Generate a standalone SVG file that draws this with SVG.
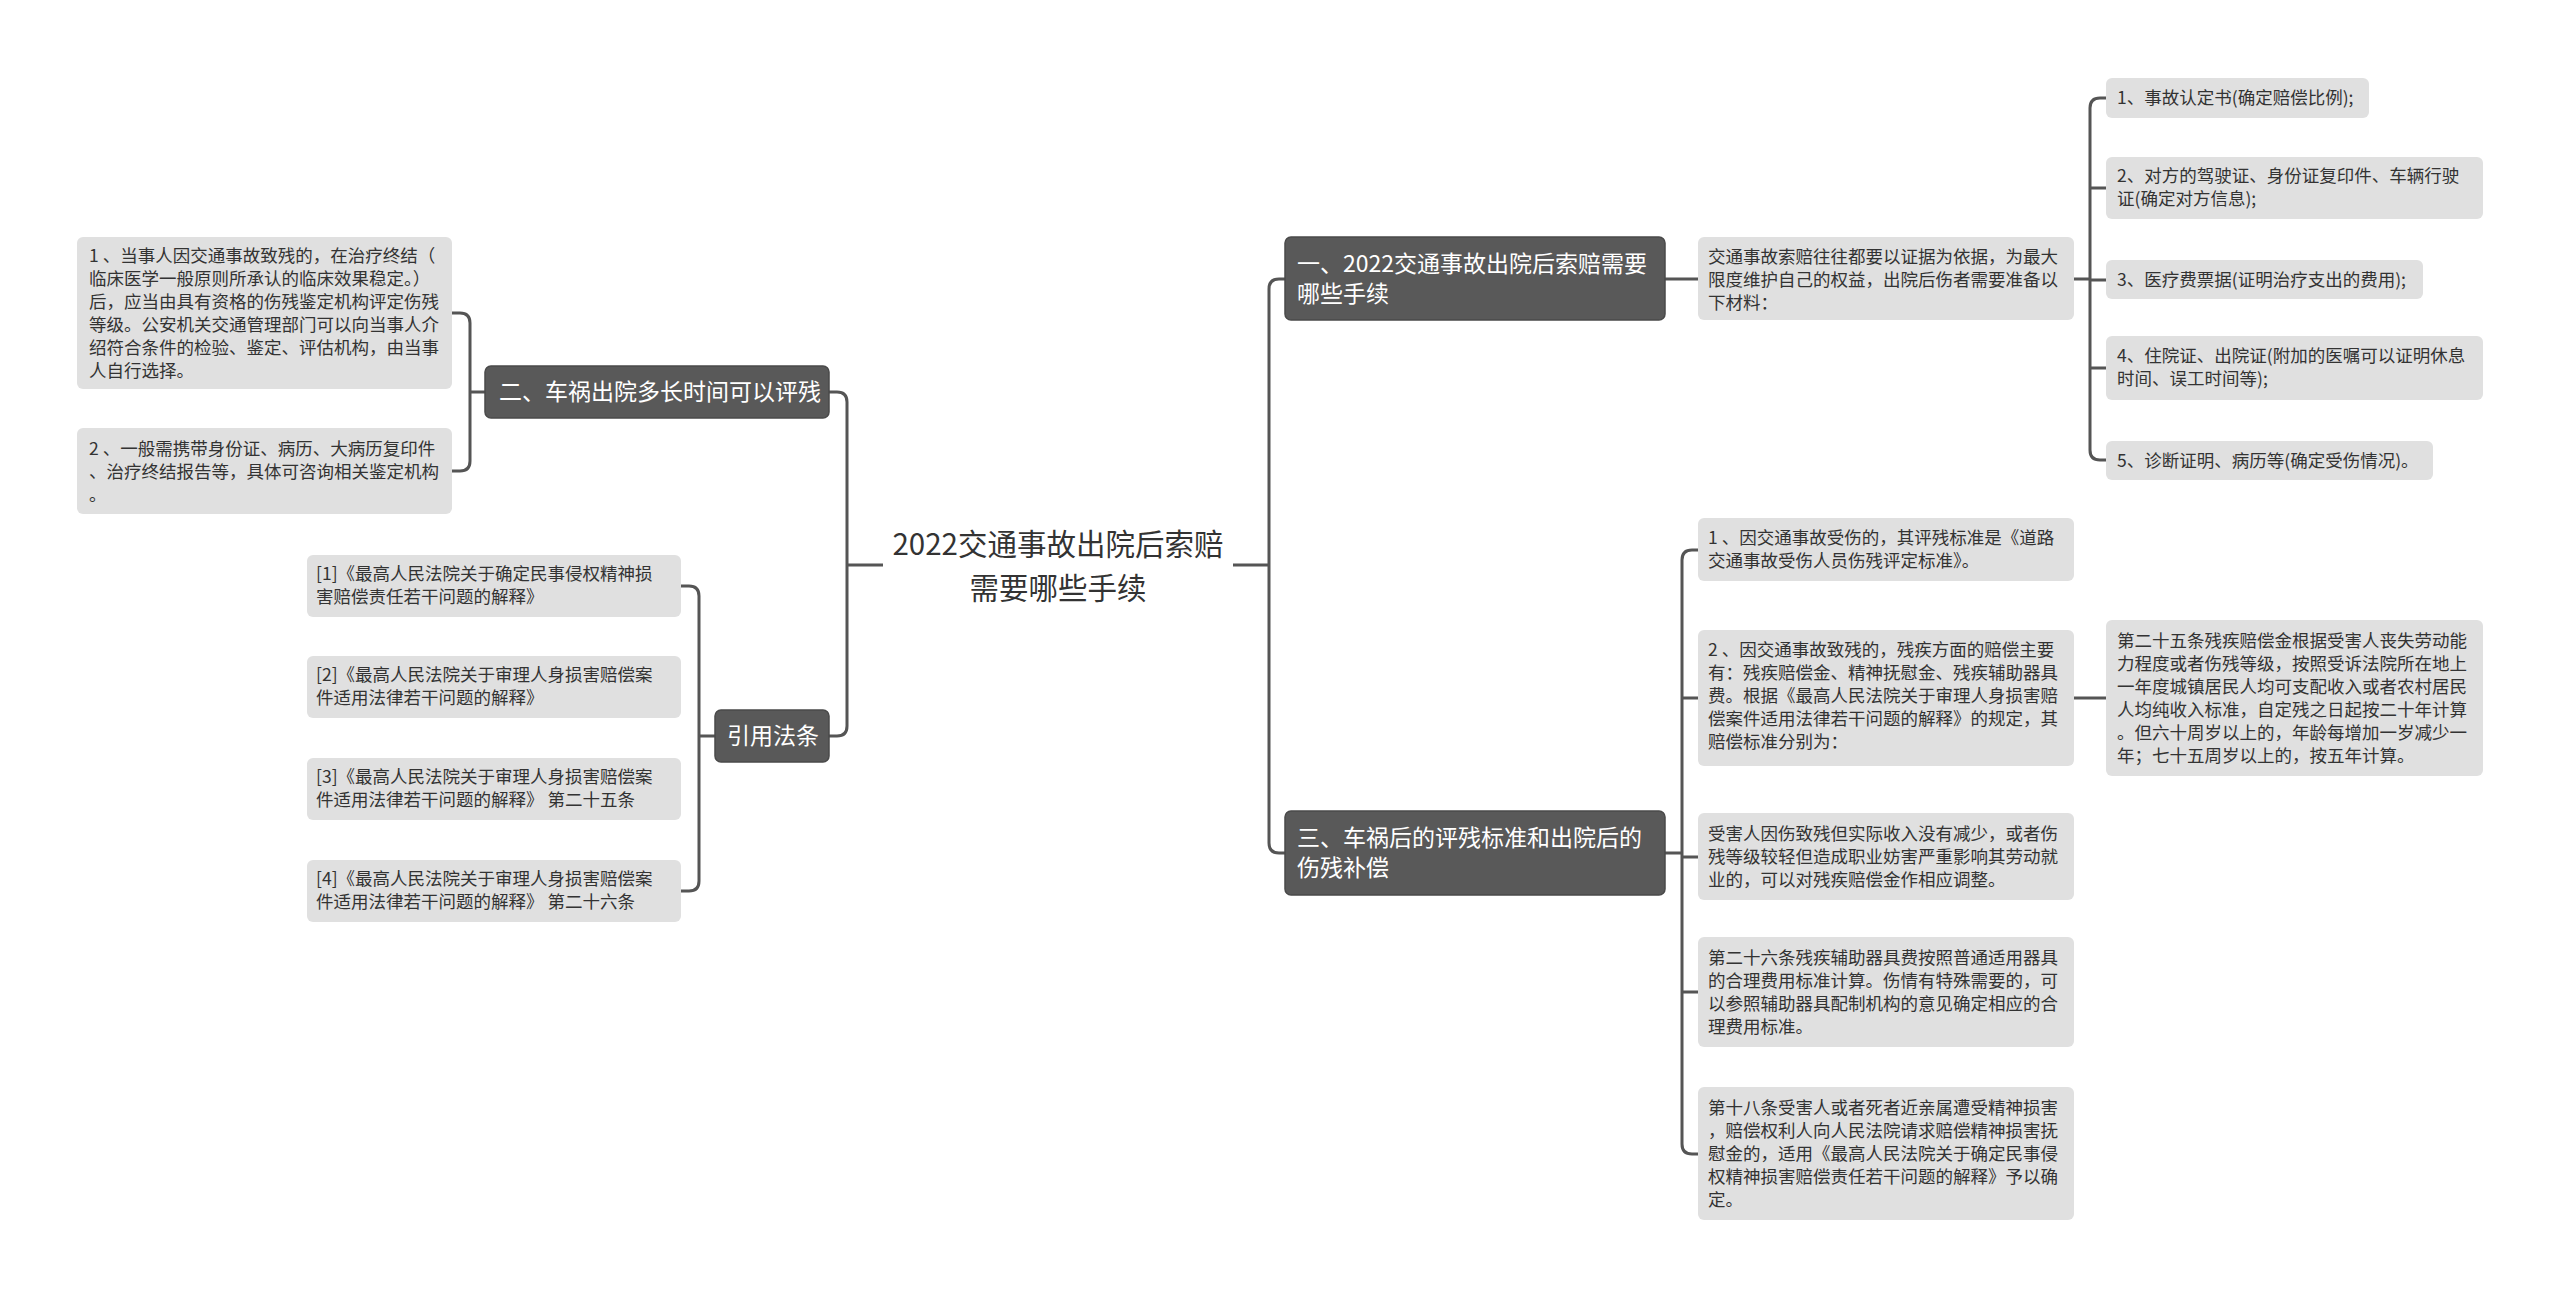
<svg xmlns="http://www.w3.org/2000/svg" width="2560" height="1298" viewBox="0 0 2560 1298">
<style>
.d{fill:#595959;stroke:#4a4a4a;stroke-width:1.5}
.l{fill:#e0e0e0}
.t{font-family:"Noto Sans CJK SC","Liberation Sans",sans-serif;font-size:17.5px;fill:#333}
.w{font-family:"Noto Sans CJK SC","Liberation Sans",sans-serif;font-size:23px;fill:#fff}
.c{font-family:"Noto Sans CJK SC","Liberation Sans",sans-serif;font-size:29.5px;fill:#333}
.k{fill:none;stroke:#555;stroke-width:3}
</style>
<rect width="2560" height="1298" fill="#fff"/>
<g id="connectors" class="k">
<path d="M883,565 H847 M829,392 H837 Q847,392 847,402 V726 Q847,736 837,736 H829"/>
<path d="M485,392 H470 M452,313 H460 Q470,313 470,323 V461 Q470,471 460,471 H452"/>
<path d="M715,736 H699 M681,586 H689 Q699,586 699,596 V881 Q699,891 689,891 H681"/>
<path d="M1233,565 H1269 M1285,279 H1279 Q1269,279 1269,289 V843 Q1269,853 1279,853 H1285"/>
<path d="M1665,279 H1698"/>
<path d="M2074,279 H2090 M2106,98 H2100 Q2090,98 2090,108 V450 Q2090,460 2100,460 H2106 M2090,188 H2106 M2090,280 H2106 M2090,368 H2106"/>
<path d="M1665,853 H1682 M1698,550 H1692 Q1682,550 1682,560 V1144 Q1682,1154 1692,1154 H1698 M1682,698 H1698 M1682,857 H1698 M1682,992 H1698"/>
<path d="M2074,698 H2106"/>
</g>
<g id="center"><text class="c" x="1058" y="555" text-anchor="middle">2022交通事故出院后索赔</text><text class="c" x="1058" y="599" text-anchor="middle">需要哪些手续</text></g>
<g id="n2"><rect class="d" x="485" y="366" width="344" height="52" rx="6"/><text class="w" x="499" y="400">二、车祸出院多长时间可以评残</text></g>
<g id="n2a"><rect class="l" x="77" y="237" width="375" height="152" rx="6"/><text class="t" x="89" y="262"><tspan x="89"> 1 、当事人因交通事故致残的，在治疗终结（</tspan><tspan x="89" dy="23">临床医学一般原则所承认的临床效果稳定。）</tspan><tspan x="89" dy="23">后，应当由具有资格的伤残鉴定机构评定伤残</tspan><tspan x="89" dy="23">等级。公安机关交通管理部门可以向当事人介</tspan><tspan x="89" dy="23">绍符合条件的检验、鉴定、评估机构，由当事</tspan><tspan x="89" dy="23">人自行选择。</tspan></text></g>
<g id="n2b"><rect class="l" x="77" y="428" width="375" height="86" rx="6"/><text class="t" x="89" y="455"><tspan x="89"> 2 、一般需携带身份证、病历、大病历复印件</tspan><tspan x="89" dy="23">、治疗终结报告等，具体可咨询相关鉴定机构</tspan><tspan x="89" dy="23">。</tspan></text></g>
<g id="n4"><rect class="d" x="715" y="710" width="114" height="52" rx="6"/><text class="w" x="727" y="744">引用法条</text></g>
<g id="r1"><rect class="l" x="307" y="555" width="374" height="62" rx="6"/><text class="t" x="316" y="580"><tspan x="316">[1]《最高人民法院关于确定民事侵权精神损</tspan><tspan x="316" dy="23">害赔偿责任若干问题的解释》</tspan></text></g>
<g id="r2"><rect class="l" x="307" y="656" width="374" height="62" rx="6"/><text class="t" x="316" y="681"><tspan x="316">[2]《最高人民法院关于审理人身损害赔偿案</tspan><tspan x="316" dy="23">件适用法律若干问题的解释》</tspan></text></g>
<g id="r3"><rect class="l" x="307" y="758" width="374" height="62" rx="6"/><text class="t" x="316" y="783"><tspan x="316">[3]《最高人民法院关于审理人身损害赔偿案</tspan><tspan x="316" dy="23">件适用法律若干问题的解释》 第二十五条</tspan></text></g>
<g id="r4"><rect class="l" x="307" y="860" width="374" height="62" rx="6"/><text class="t" x="316" y="885"><tspan x="316">[4]《最高人民法院关于审理人身损害赔偿案</tspan><tspan x="316" dy="23">件适用法律若干问题的解释》 第二十六条</tspan></text></g>
<g id="n1"><rect class="d" x="1285" y="237" width="380" height="83" rx="6"/><text class="w" x="1297" y="272"><tspan x="1297">一、2022交通事故出院后索赔需要</tspan><tspan x="1297" dy="30">哪些手续</tspan></text></g>
<g id="n1a"><rect class="l" x="1698" y="237" width="376" height="83" rx="6"/><text class="t" x="1708" y="263"><tspan x="1708">交通事故索赔往往都要以证据为依据，为最大</tspan><tspan x="1708" dy="23">限度维护自己的权益，出院后伤者需要准备以</tspan><tspan x="1708" dy="23">下材料：</tspan></text></g>
<g id="i1"><rect class="l" x="2106" y="78" width="263" height="40" rx="6"/><text class="t" x="2117" y="104">1、事故认定书(确定赔偿比例);</text></g>
<g id="i2"><rect class="l" x="2106" y="157" width="377" height="62" rx="6"/><text class="t" x="2117" y="182"><tspan x="2117">2、对方的驾驶证、身份证复印件、车辆行驶</tspan><tspan x="2117" dy="23">证(确定对方信息);</tspan></text></g>
<g id="i3"><rect class="l" x="2106" y="260" width="317" height="39" rx="6"/><text class="t" x="2117" y="286">3、医疗费票据(证明治疗支出的费用);</text></g>
<g id="i4"><rect class="l" x="2106" y="336" width="377" height="64" rx="6"/><text class="t" x="2117" y="362"><tspan x="2117">4、住院证、出院证(附加的医嘱可以证明休息</tspan><tspan x="2117" dy="23">时间、误工时间等);</tspan></text></g>
<g id="i5"><rect class="l" x="2106" y="441" width="327" height="39" rx="6"/><text class="t" x="2117" y="467">5、诊断证明、病历等(确定受伤情况)。</text></g>
<g id="n3"><rect class="d" x="1285" y="811" width="380" height="84" rx="6"/><text class="w" x="1297" y="846"><tspan x="1297">三、车祸后的评残标准和出院后的</tspan><tspan x="1297" dy="30">伤残补偿</tspan></text></g>
<g id="s1"><rect class="l" x="1698" y="518" width="376" height="63" rx="6"/><text class="t" x="1708" y="544"><tspan x="1708"> 1 、因交通事故受伤的，其评残标准是《道路</tspan><tspan x="1708" dy="23">交通事故受伤人员伤残评定标准》。</tspan></text></g>
<g id="s2"><rect class="l" x="1698" y="630" width="376" height="136" rx="6"/><text class="t" x="1708" y="656"><tspan x="1708"> 2 、因交通事故致残的，残疾方面的赔偿主要</tspan><tspan x="1708" dy="23">有：残疾赔偿金、精神抚慰金、残疾辅助器具</tspan><tspan x="1708" dy="23">费。根据《最高人民法院关于审理人身损害赔</tspan><tspan x="1708" dy="23">偿案件适用法律若干问题的解释》的规定，其</tspan><tspan x="1708" dy="23">赔偿标准分别为：</tspan></text></g>
<g id="s2a"><rect class="l" x="2106" y="620" width="377" height="156" rx="6"/><text class="t" x="2117" y="647"><tspan x="2117">第二十五条残疾赔偿金根据受害人丧失劳动能</tspan><tspan x="2117" dy="23">力程度或者伤残等级，按照受诉法院所在地上</tspan><tspan x="2117" dy="23">一年度城镇居民人均可支配收入或者农村居民</tspan><tspan x="2117" dy="23">人均纯收入标准，自定残之日起按二十年计算</tspan><tspan x="2117" dy="23">。但六十周岁以上的，年龄每增加一岁减少一</tspan><tspan x="2117" dy="23">年；七十五周岁以上的，按五年计算。</tspan></text></g>
<g id="s3"><rect class="l" x="1698" y="813" width="376" height="87" rx="6"/><text class="t" x="1708" y="840"><tspan x="1708">受害人因伤致残但实际收入没有减少，或者伤</tspan><tspan x="1708" dy="23">残等级较轻但造成职业妨害严重影响其劳动就</tspan><tspan x="1708" dy="23">业的，可以对残疾赔偿金作相应调整。</tspan></text></g>
<g id="s4"><rect class="l" x="1698" y="937" width="376" height="110" rx="6"/><text class="t" x="1708" y="964"><tspan x="1708">第二十六条残疾辅助器具费按照普通适用器具</tspan><tspan x="1708" dy="23">的合理费用标准计算。伤情有特殊需要的，可</tspan><tspan x="1708" dy="23">以参照辅助器具配制机构的意见确定相应的合</tspan><tspan x="1708" dy="23">理费用标准。</tspan></text></g>
<g id="s5"><rect class="l" x="1698" y="1087" width="376" height="133" rx="6"/><text class="t" x="1708" y="1114"><tspan x="1708">第十八条受害人或者死者近亲属遭受精神损害</tspan><tspan x="1708" dy="23">，赔偿权利人向人民法院请求赔偿精神损害抚</tspan><tspan x="1708" dy="23">慰金的，适用《最高人民法院关于确定民事侵</tspan><tspan x="1708" dy="23">权精神损害赔偿责任若干问题的解释》予以确</tspan><tspan x="1708" dy="23">定。</tspan></text></g>
</svg>
